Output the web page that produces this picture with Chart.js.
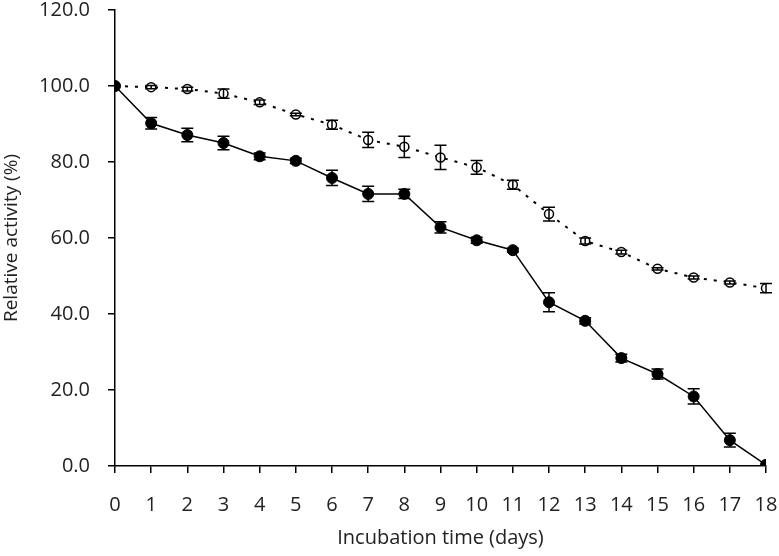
<!DOCTYPE html>
<html>
<head>
<meta charset="utf-8">
<script src="https://cdn.jsdelivr.net/npm/chart.js@4/dist/chart.umd.min.js"></script>
<style>
  html, body { margin: 0; padding: 0; background: #fff; }
  #wrap { width: 779px; height: 556px; }
</style>
</head>
<body>
<div id="wrap"><canvas id="myChart" width="779" height="556"></canvas></div>
<script>
// Incubation days
const days = [0, 1, 2, 3, 4, 5, 6, 7, 8, 9, 10, 11, 12, 13, 14, 15, 16, 17, 18];

// Filled circles, solid line
const solidValues = [100, 90.2, 87.1, 85.0, 81.5, 80.3, 75.8, 71.6, 71.6, 62.8, 59.4, 56.8, 43.1, 38.2, 28.4, 24.2, 18.3, 6.8, 0.3];
const solidErrors = [0, 1.5, 1.8, 1.8, 0.9, 0.7, 2.0, 2.0, 1.2, 1.5, 0.8, 0.5, 2.5, 0.8, 1.0, 1.3, 2.0, 1.8, 0];

// Open circles, dotted line
const openValues = [100, 99.7, 99.2, 98.0, 95.7, 92.5, 89.8, 85.8, 84.0, 81.2, 78.6, 74.0, 66.3, 59.2, 56.3, 51.9, 49.6, 48.3, 46.8];
const openErrors = [0, 0.4, 0.5, 1.2, 0.6, 0.3, 1.2, 2.0, 2.8, 3.2, 1.8, 1.2, 1.8, 0.8, 0.5, 0.3, 0.4, 0.4, 1.2];

// Y tick labels
const yTicks = [0, 20, 40, 60, 80, 100, 120];

function toPoints(vals) {
    return days.map((d, i) => ({ x: d, y: vals[i] }));
}

// Draw vertical error bars with caps through the chart scales
const errorBars = {
    id: 'errorBars',
    afterDatasetsDraw(chart) {
        const ctx = chart.ctx;
        const xs = chart.scales.x, ys = chart.scales.y;
        ctx.save();
        ctx.strokeStyle = '#000';
        ctx.lineWidth = 1.5;
        chart.data.datasets.forEach(ds => {
            ds.data.forEach((p, i) => {
                const e = ds.errors[i];
                if (!e) return;
                const x = xs.getPixelForValue(p.x);
                const yTop = ys.getPixelForValue(p.y + e);
                const yBot = ys.getPixelForValue(p.y - e);
                ctx.beginPath();
                ctx.moveTo(x, yTop); ctx.lineTo(x, yBot);
                ctx.moveTo(x - 6, yTop); ctx.lineTo(x + 6, yTop);
                ctx.moveTo(x - 6, yBot); ctx.lineTo(x + 6, yBot);
                ctx.stroke();
            });
        });
        ctx.restore();
    }
};

const fontFamily = '"Open Sans", sans-serif';

new Chart(document.getElementById('myChart').getContext('2d'), {
    type: 'line',
    data: {
        datasets: [{
            label: 'Filled',
            data: toPoints(solidValues),
            errors: solidErrors,
            borderColor: '#000',
            borderWidth: 1.5,
            pointRadius: 5.5,
            pointBackgroundColor: '#000',
            pointBorderColor: '#000',
            pointBorderWidth: 1,
            tension: 0,
            order: 0
        }, {
            label: 'Open',
            data: toPoints(openValues),
            errors: openErrors,
            borderColor: '#000',
            borderWidth: 2,
            borderDash: [3, 7],
            pointRadius: 4.5,
            pointBackgroundColor: '#fff',
            pointBorderColor: '#000',
            pointBorderWidth: 1.5,
            tension: 0,
            order: 1
        }]
    },
    options: {
        responsive: false,
        animation: false,
        layout: { padding: { top: 10, right: 13, left: 0, bottom: 0 } },
        plugins: { legend: { display: false }, tooltip: { enabled: false } },
        scales: {
            x: {
                type: 'linear',
                min: 0,
                max: 18,
                afterFit(scale) { scale.height = 90; scale.paddingLeft = 0; scale.paddingRight = 0; },
                afterBuildTicks(scale) { scale.ticks = days.map(v => ({ value: v })); },
                grid: { display: true, drawOnChartArea: false, drawTicks: true, tickLength: 7, color: '#000', lineWidth: 1.5 },
                border: { display: true, color: '#000', width: 1.5 },
                ticks: { color: '#222', padding: 20, font: { family: fontFamily, size: 20 } },
                title: { display: true, text: 'Incubation time (days)', color: '#222', font: { family: fontFamily, size: 20 }, padding: { top: 6, bottom: 6 } }
            },
            y: {
                min: 0,
                max: 120,
                afterFit(scale) { scale.width = 115; scale.paddingTop = 0; scale.paddingBottom = 0; },
                afterBuildTicks(scale) { scale.ticks = yTicks.map(v => ({ value: v })); },
                grid: { display: true, drawOnChartArea: false, drawTicks: true, tickLength: 7, color: '#000', lineWidth: 1.5 },
                border: { display: true, color: '#000', width: 1.5 },
                ticks: { color: '#222', padding: 18, font: { family: fontFamily, size: 20 }, callback: v => v.toFixed(1) },
                title: { display: true, text: 'Relative activity (%)', color: '#222', font: { family: fontFamily, size: 19 }, padding: { top: 0, bottom: 0 } }
            }
        }
    },
    plugins: [errorBars]
});
</script>
</body>
</html>
